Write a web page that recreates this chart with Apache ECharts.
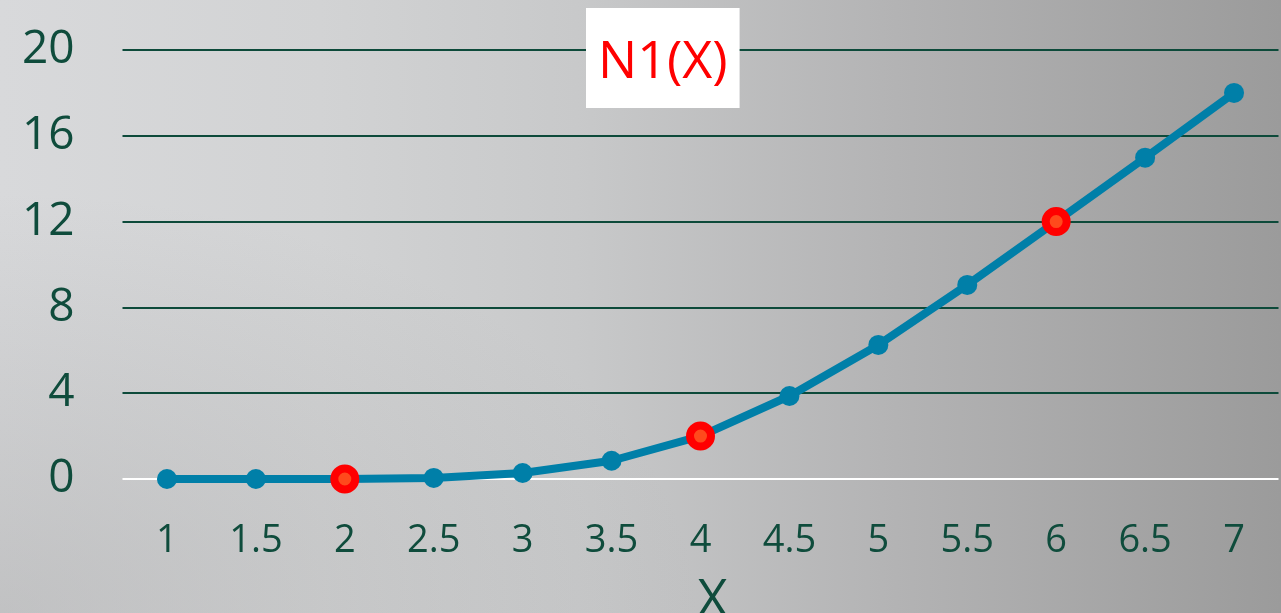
<!DOCTYPE html>
<html>
<head>
<meta charset="utf-8">
<script src="https://cdn.jsdelivr.net/npm/echarts@6/dist/echarts.min.js"></script>
<style>
  html, body { margin: 0; padding: 0; }
  #chart {
    width: 1281px; height: 613px;
    background:
      radial-gradient(ellipse 700px 420px at 0% 100%, rgba(150,150,150,0.35), rgba(150,150,150,0) 100%),
      linear-gradient(90deg, #d8d9db 0%, #d2d3d4 25%, #c8c9ca 45%, #b3b3b4 70%, #9b9b9b 100%);
  }
</style>
</head>
<body>
<div id="chart"></div>
<script>
// N1(X) sampled at half-unit steps of X
const categories = ['1', '1.5', '2', '2.5', '3', '3.5', '4', '4.5', '5', '5.5', '6', '6.5', '7'];
const values = [0, 0, 0, 0.05, 0.28, 0.85, 2, 3.87, 6.25, 9.05, 12, 14.98, 18];
// X values whose points are drawn in red
const highlighted = ['2', '4', '6'];
const yTicks = { min: 0, max: 20, interval: 4 };

const labelColor = '#0f4c3c';
const lineColor = '#007fa8';
const gridColor = '#0d4a3a';

const chart = echarts.init(document.getElementById('chart'), null, { renderer: 'canvas' });

const seriesData = values.map((v, i) => {
  if (highlighted.includes(categories[i])) {
    return {
      value: v,
      symbolSize: 21,
      itemStyle: { color: '#ff4a1c', borderColor: '#ff0000', borderWidth: 8 }
    };
  }
  return v;
});

// the zero line is white, the others dark green
const splitColors = [];
for (let v = yTicks.min; v <= yTicks.max; v += yTicks.interval) {
  splitColors.push(v === 0 ? '#ffffff' : gridColor);
}

chart.setOption({
  backgroundColor: 'transparent',
  animation: false,
  textStyle: { fontFamily: '"Open Sans", "Noto Sans", sans-serif' },
  title: {
    text: 'N1(X)',
    left: 586,
    top: 8,
    backgroundColor: '#ffffff',
    padding: [29, 12, 19, 12],
    textStyle: { color: '#ff0000', fontSize: 52, fontWeight: 'normal', lineHeight: 52 }
  },
  grid: { left: 122.5, right: 2.5, top: 50, bottom: 134, containLabel: false, outerBoundsMode: 'none' },
  xAxis: {
    type: 'category',
    data: categories,
    boundaryGap: true,
    name: 'X',
    nameLocation: 'middle',
    nameGap: 96,
    nameTextStyle: { color: labelColor, fontSize: 52, padding: [0, 0, 0, 24] },
    axisLine: { show: false },
    axisTick: { show: false },
    axisLabel: { color: labelColor, fontSize: 38, margin: 43 }
  },
  yAxis: {
    type: 'value',
    min: yTicks.min,
    max: yTicks.max,
    interval: yTicks.interval,
    axisLine: { show: false },
    axisTick: { show: false },
    axisLabel: { color: labelColor, fontSize: 46, margin: 48 },
    splitLine: { lineStyle: { width: 2, color: splitColors } }
  },
  series: [{
    type: 'line',
    data: seriesData,
    symbol: 'circle',
    symbolSize: 20,
    lineStyle: { color: lineColor, width: 8 },
    itemStyle: { color: lineColor },
    z: 3
  }]
});
</script>
</body>
</html>
